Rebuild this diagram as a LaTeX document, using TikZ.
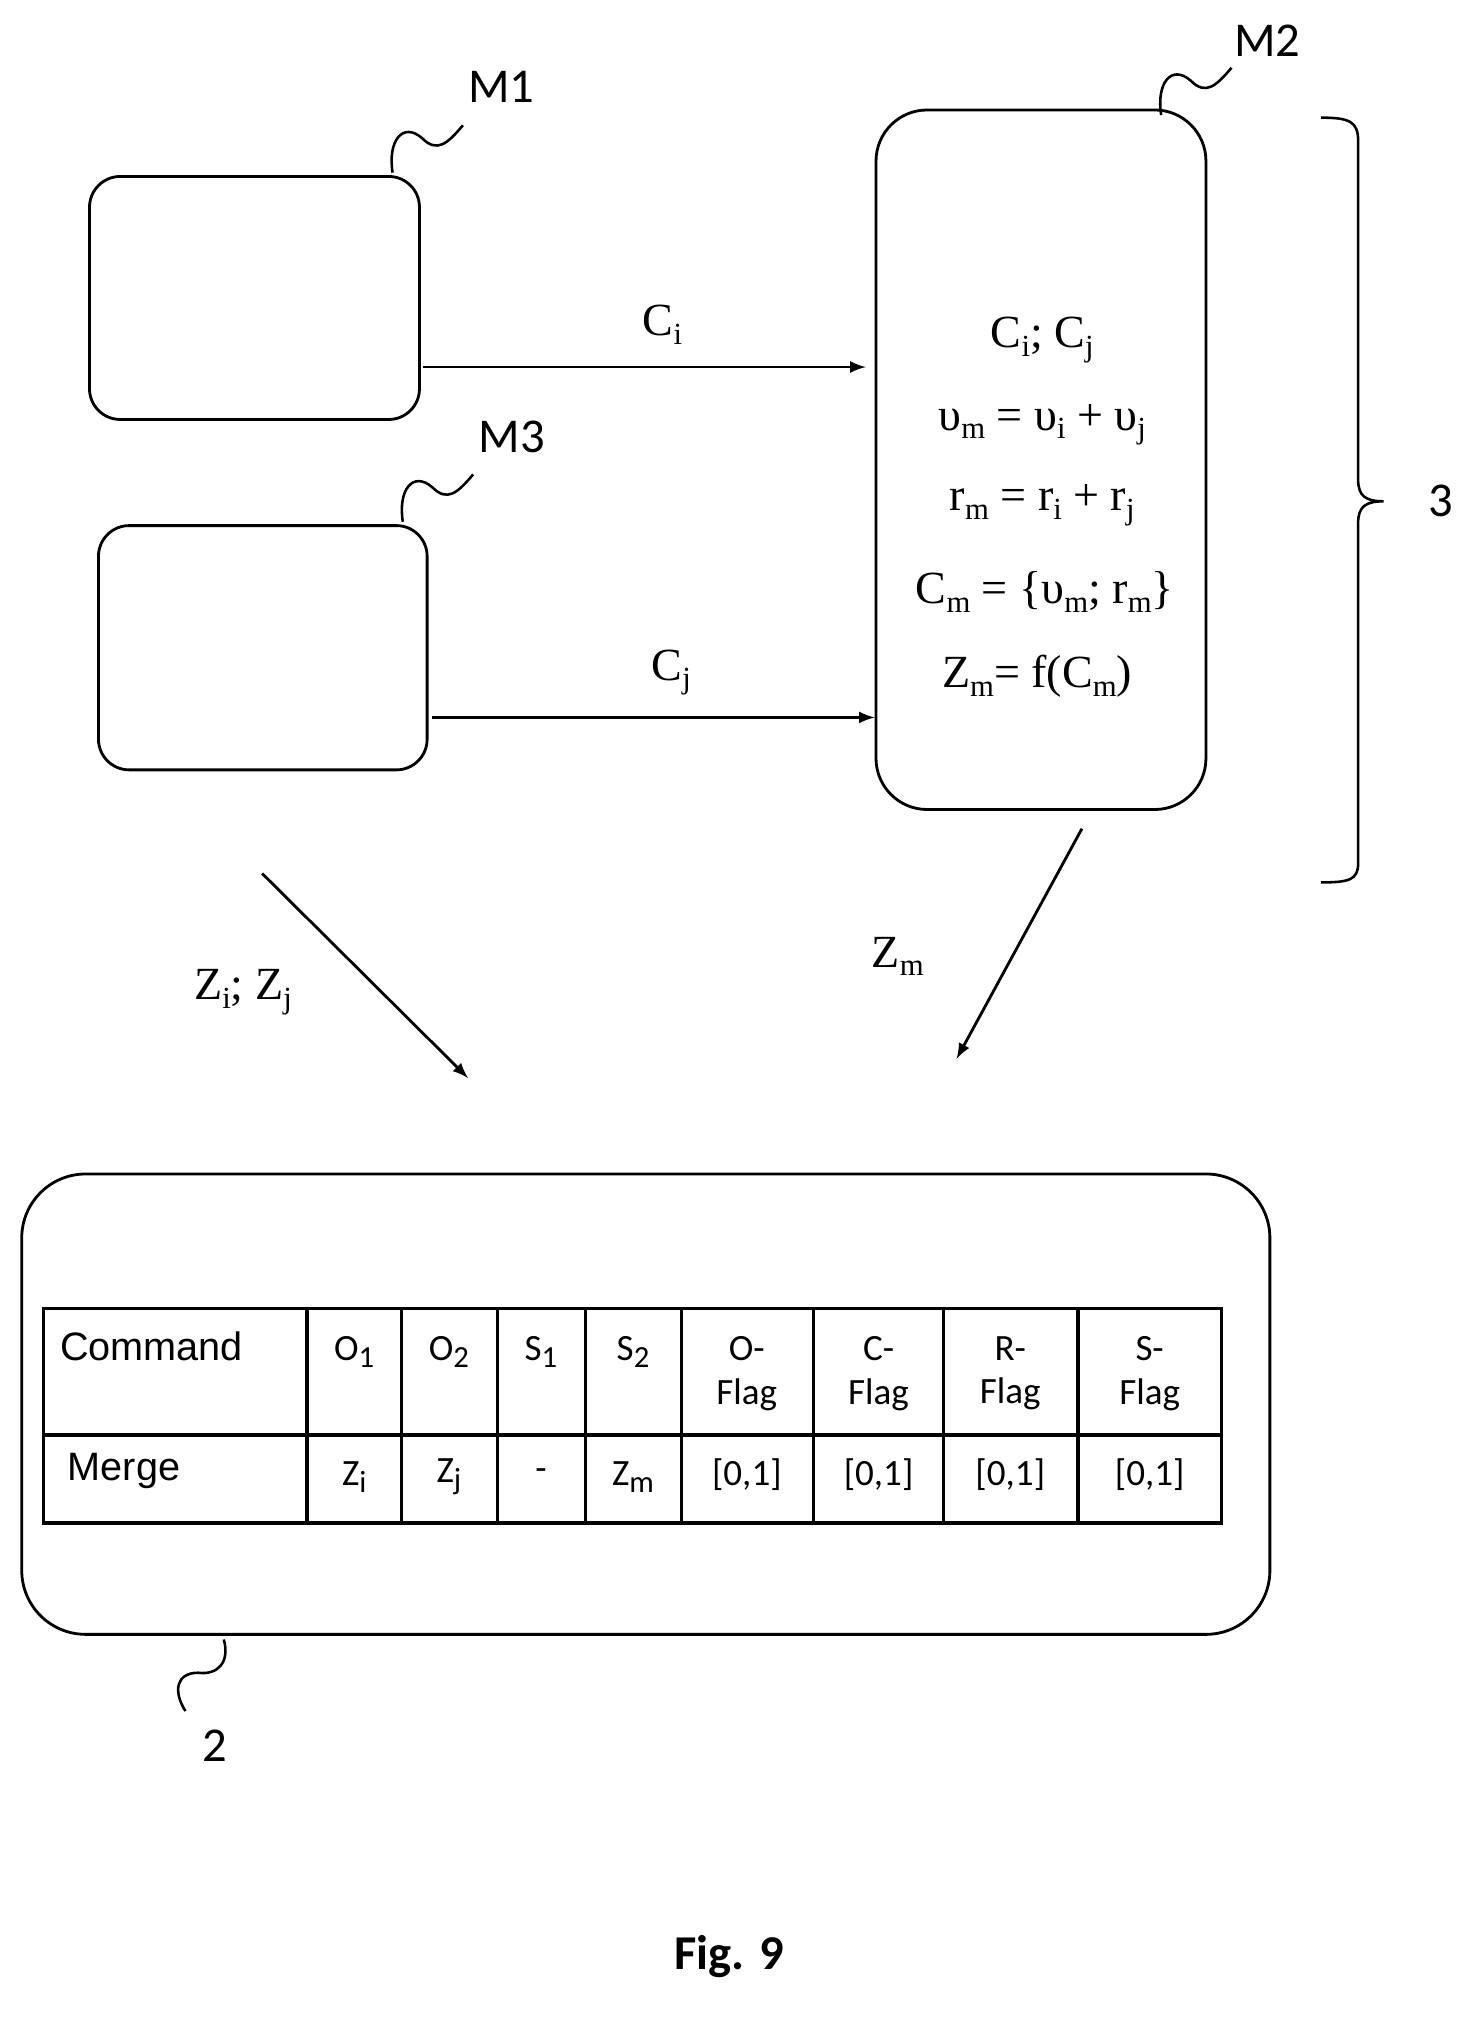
\documentclass[tikz,border=0pt]{standalone}
\usepackage{fontspec}
\setmainfont{Liberation Serif}
\newfontfamily\tabsans{Liberation Sans}
\newfontfamily\carl{Carlito}
\usetikzlibrary{decorations.pathreplacing}
\newcommand\sbx[1]{\raisebox{-0.4ex}{\fontsize{12}{12}\selectfont #1}}
\begin{document}
\begin{tikzpicture}[x=0.5pt,y=-0.5pt,
  box/.style={draw,line width=1.1pt,rounded corners=12pt},
  arr/.style={draw,line width=1.1pt,-latex},
  sq/.style={draw,line width=1pt},
  lab/.style={font=\carl\fontsize{19}{19}\selectfont},
  ml/.style={font=\fontsize{18}{18}\selectfont},
  tc/.style={font=\carl\fontsize{14.5}{17}\selectfont,align=center},
  ts/.style={font=\tabsans\fontsize{15.5}{17}\selectfont}]
\useasboundingbox (0,0) rectangle (1160,1578);
% boxes
\draw[box] (70,138) rectangle (328,328) node[pos=0.5,coordinate](m1){};
\draw[box] (77,411) rectangle (334,602) node[pos=0.5,coordinate](m3){};
\draw[box,rounded corners=20pt] (685,86) rectangle (943,633) node[pos=0.5,coordinate](m2){};
\draw[box,rounded corners=25pt] (17,918) rectangle (993,1278) node[pos=0.5,coordinate](b2){};
% connector endpoints
\coordinate (a1) at (331,287); \coordinate (a2) at (677,287);
\coordinate (b1) at (338,561); \coordinate (b2e) at (684,561);
\coordinate (z1) at (846,648); \coordinate (z2) at (748,828);
\coordinate (w1) at (205,683); \coordinate (w2) at (366,843);
\draw[arr] (a1) -- (a2);
\draw[arr] (b1) -- (b2e);
\draw[arr] (z1) -- (z2);
\draw[arr] (w1) -- (w2);
\node[ml] (ci) at (518,254) {C\sbx{i}};
\node[ml] (cj) at (525,526) {C\sbx{j}};
\node[ml] (zm) at (702,748) {Z\sbx{m}};
\node[ml] (zij) at (190,776) {Z\sbx{i}; Z\sbx{j}};
% M2 text
\node[ml] (t1) at (815,266) {C\sbx{i}; C\sbx{j}};
\node[ml] (t2) at (815,332) {υ\sbx{m} = υ\sbx{i} + υ\sbx{j}};
\node[ml] (t3) at (815,395) {r\sbx{m} = r\sbx{i} + r\sbx{j}};
\node[ml] (t4) at (817,463) {C\sbx{m} = \{υ\sbx{m}; r\sbx{m}\}};
\node[ml] (t5) at (811,529) {Z\sbx{m}= f(C\sbx{m})};
% brace
\draw[line width=1pt] (1033,92) .. controls (1055,92) and (1062,95) .. (1062,110) -- (1062,375) .. controls (1062,388) and (1068,392) .. (1082,392) .. controls (1068,392) and (1062,396) .. (1062,409) -- (1062,675) .. controls (1062,688) and (1055,690) .. (1033,690);
\node[lab] (n3) at (1127,392) {3};
% squiggles and labels
\node[lab] (l1) at (392,68) {M1};
\node[lab] (l2) at (991,32) {M2};
\node[lab] (l3) at (400,342) {M3};
\node[lab] (l4) at (168,1365) {2};
\draw[sq] (307,135) .. controls (303,110) and (315,95) .. (330,108) .. controls (342,120) and (350,112) .. (362,98);
\draw[sq] (908,90) .. controls (904,65) and (916,50) .. (931,63) .. controls (943,75) and (951,67) .. (963,53);
\draw[sq] (315,408) .. controls (311,383) and (323,368) .. (338,381) .. controls (350,393) and (358,385) .. (370,371);
\draw[sq] (175,1282) .. controls (180,1300) and (170,1310) .. (155,1308) .. controls (138,1308) and (135,1322) .. (145,1338);
% table
\draw[line width=1.3pt] (34,1023) rectangle (955,1191);
\draw[line width=1.3pt] (34,1122) -- (955,1122);
\foreach \x in {240,314,389,458,533,636,738,843} \draw[line width=1.3pt] (\x,1023) -- (\x,1191);
\node[ts,anchor=west] (h0) at (40,1053) {Command};
\node[ts,anchor=west] (r0) at (46,1150) {Merge};
\node[tc] (h1) at (277,1057) {O\sbx{1}};
\node[tc] (h2) at (351,1057) {O\sbx{2}};
\node[tc] (h3) at (423,1057) {S\sbx{1}};
\node[tc] (h4) at (495,1057) {S\sbx{2}};
\node[tc] (h5) at (584,1074) {O-\\Flag};
\node[tc] (h6) at (687,1074) {C-\\Flag};
\node[tc] (h7) at (790,1074) {R-\\Flag};
\node[tc] (h8) at (899,1074) {S-\\Flag};
\node[tc] (c1) at (277,1155) {Z\sbx{i}};
\node[tc] (c2) at (351,1155) {Z\sbx{j}};
\node[tc] (c3) at (423,1153) {-};
\node[tc] (c4) at (495,1155) {Z\sbx{m}};
\node[tc] (c5) at (584,1153) {[0,1]};
\node[tc] (c6) at (687,1153) {[0,1]};
\node[tc] (c7) at (790,1153) {[0,1]};
\node[tc] (c8) at (899,1153) {[0,1]};
\node[font=\carl\bfseries\fontsize{19}{19}\selectfont] (fig) at (570,1530) {Fig. 9};
\end{tikzpicture}
\end{document}
